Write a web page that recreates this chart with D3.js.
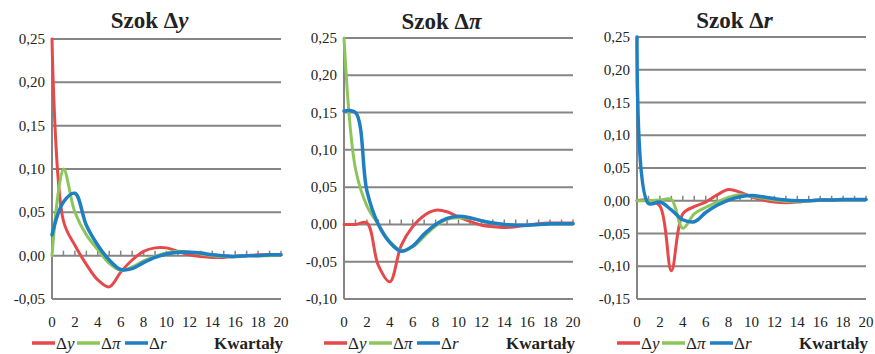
<!DOCTYPE html>
<html><head><meta charset="utf-8">
<script src="https://cdn.jsdelivr.net/npm/d3@7"></script>
<style>
body{margin:0;background:#fff;}
</style></head>
<body><svg id="c" width="875" height="354"></svg>
<script>
// ---------- DATA ----------
const quarters = [0,1,2,3,4,5,6,7,8,9,10,11,12,13,14,15,16,17,18,19,20];
const xTickLabels = [0,2,4,6,8,10,12,14,16,18,20];
const seriesNames = ["y","π","r"];
const shockTitles = ["y","π","r"];

// Panel 1: Szok Δy
const p1_dy  = [0.25,0.04,0.012,-0.010,-0.028,-0.036,-0.019,-0.005,0.005,0.009,0.009,0.005,0.001,-0.001,-0.002,-0.002,-0.001,0.000,0.001,0.001,0.001];
const p1_dpi = [0.0,0.100,0.050,0.024,0.007,-0.009,-0.017,-0.013,-0.006,-0.001,0.003,0.005,0.004,0.002,0.000,-0.001,-0.001,0.000,0.000,0.000,0.001];
const p1_dr  = [0.024,0.062,0.072,0.035,0.012,-0.005,-0.016,-0.015,-0.008,-0.002,0.002,0.004,0.004,0.003,0.001,0.000,-0.001,0.000,0.000,0.001,0.001];
// Panel 2: Szok Δπ
const p2_dy  = [0.0,0.0,0.002,-0.055,-0.077,-0.028,-0.003,0.012,0.019,0.017,0.010,0.004,-0.001,-0.003,-0.004,-0.003,-0.001,0.001,0.002,0.002,0.002];
const p2_dpi = [0.25,0.075,0.025,0.000,-0.023,-0.035,-0.030,-0.016,-0.002,0.007,0.009,0.008,0.005,0.002,0.000,-0.001,-0.001,0.000,0.001,0.001,0.001];
const p2_dr  = [0.152,0.150,0.045,0.000,-0.024,-0.036,-0.029,-0.013,0.000,0.008,0.011,0.009,0.005,0.002,0.000,-0.001,-0.001,0.000,0.001,0.001,0.001];
// Panel 3: Szok Δr
const p3_dy  = [0.0,0.001,-0.008,-0.107,-0.020,-0.009,-0.002,0.009,0.017,0.013,0.006,0.001,-0.002,-0.003,-0.002,0.000,0.001,0.001,0.002,0.002,0.002];
const p3_dpi = [0.0,0.0,0.001,0.002,-0.042,-0.020,-0.010,-0.002,0.005,0.009,0.007,0.004,0.001,-0.001,-0.001,0.000,0.001,0.001,0.002,0.002,0.002];
const p3_dr  = [0.25,-0.004,-0.002,-0.014,-0.029,-0.032,-0.018,-0.007,0.001,0.006,0.008,0.006,0.003,0.001,0.000,0.000,0.001,0.001,0.002,0.002,0.002];

const yTicks1 = [-0.05,0,0.05,0.10,0.15,0.20,0.25];
const yTicks2 = [-0.10,-0.05,0,0.05,0.10,0.15,0.20,0.25];
const yTicks3 = [-0.15,-0.10,-0.05,0,0.05,0.10,0.15,0.20,0.25];
const xAxisTitle = "Kwartały";

// ---------- LAYOUT ----------
const FONT = "Liberation Serif";
const colors = ["#e5494b","#8cc65a","#1f7fc3"];
const widths = [3,3,3.5];
const gridColor = "#858585";

const panels = [
  {title: shockTitles[0], series:[p1_dy,p1_dpi,p1_dr], ticks:yTicks1, x0:52, x1:281, yTop:39, yBot:299, titleY:28},
  {title: shockTitles[1], series:[p2_dy,p2_dpi,p2_dr], ticks:yTicks2, x0:344, x1:573, yTop:38, yBot:299, titleY:29},
  {title: shockTitles[2], series:[p3_dy,p3_dpi,p3_dr], ticks:yTicks3, x0:637, x1:866, yTop:37, yBot:299, titleY:28}
];

const svg = d3.select("#c");
const fmt = v => d3.format(".2f")(v).replace(".", ",").replace("−","-");

panels.forEach(p => {
  const g = svg.append("g");
  const x = d3.scaleLinear().domain([0,20]).range([p.x0,p.x1]);
  const y = d3.scaleLinear().domain([p.ticks[0], p.ticks[p.ticks.length-1]]).range([p.yBot,p.yTop]);

  g.selectAll("line.grid").data(p.ticks).join("line")
    .attr("x1",p.x0).attr("x2",p.x1)
    .attr("y1",d=>y(d)).attr("y2",d=>y(d))
    .attr("stroke",gridColor).attr("stroke-width",2);
  g.append("line").attr("x1",p.x0).attr("x2",p.x0).attr("y1",p.yTop).attr("y2",p.yBot)
    .attr("stroke",gridColor).attr("stroke-width",2);
  g.selectAll("text.yl").data(p.ticks).join("text")
    .attr("font-family", FONT)
    .attr("x",p.x0-7).attr("y",d=>y(d)+5)
    .attr("text-anchor","end").attr("font-size",15).attr("fill","#222")
    .text(d=>fmt(d));
  g.selectAll("line.tk").data(quarters).join("line")
    .attr("x1",d=>x(d)).attr("x2",d=>x(d))
    .attr("y1",y(0)).attr("y2",y(0)-5)
    .attr("stroke",gridColor).attr("stroke-width",1.5);
  g.selectAll("text.xl").data(xTickLabels).join("text")
    .attr("font-family", FONT)
    .attr("x",d=>x(d)).attr("y",327)
    .attr("text-anchor","middle").attr("font-size",15).attr("fill","#222")
    .text(d=>d);
  const t = g.append("text").attr("font-family", FONT).attr("x",(p.x0+p.x1)/2 - 17).attr("y",p.titleY)
    .attr("text-anchor","middle").attr("font-size",23).attr("font-weight","bold").attr("fill","#222");
  t.append("tspan").text("Szok Δ");
  t.append("tspan").attr("font-style","italic").text(p.title);

  const line = d3.line().x((d,i)=>x(quarters[i])).y(d=>y(d)).curve(d3.curveCatmullRom.alpha(0.5));
  p.series.forEach((s,k)=>{
    g.append("path").attr("d",line(s)).attr("fill","none")
      .attr("stroke",colors[k]).attr("stroke-width",widths[k])
      .attr("stroke-linejoin","round").attr("stroke-linecap","round");
  });

  const ly = 343;
  const offs = [-20, 25, 73];
  seriesNames.forEach((n,k)=>{
    g.append("line").attr("x1",p.x0+offs[k]).attr("x2",p.x0+offs[k]+23)
      .attr("y1",ly).attr("y2",ly).attr("stroke",colors[k]).attr("stroke-width",3.5);
    const lt = g.append("text").attr("font-family", FONT).attr("x",p.x0+offs[k]+24).attr("y",ly+5.5)
      .attr("font-size",17).attr("fill","#222");
    lt.append("tspan").text("Δ");
    lt.append("tspan").attr("font-style","italic").text(n);
  });
  g.append("text").attr("font-family", FONT).attr("x",p.x1+2).attr("y",349).attr("text-anchor","end")
    .attr("font-size",17).attr("font-weight","bold").attr("fill","#222").text(xAxisTitle);
});
</script></body></html>
